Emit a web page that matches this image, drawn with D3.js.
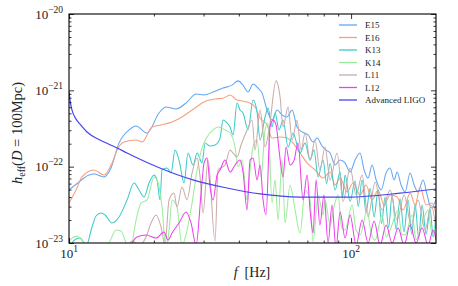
<!DOCTYPE html>
<html><head><meta charset="utf-8">
<script src="https://cdn.jsdelivr.net/npm/d3@7"></script>
<style>
body{margin:0;background:#fff;}
svg{display:block;font-family:"Liberation Serif","DejaVu Serif",serif;}
</style></head><body>
<svg id="chart" width="458" height="286"></svg>
<script>
// ---------------- data (frequency in Hz, characteristic strain h_eff) ----------------
const fE15 = [10,10.85,11.77,12.27,13.31,14.09,15.04,16.32,17.29,18.91,20.85,22.08,23.96,26.0,28.22,30.12,32.41,35.17,37.84,39.75,41.4,43.13,44.93,46.8,48.35,50.37,52.46,54.64,56.92,59.3,61.77,64.33,67.0,70.4,73.3,75.8,78.9,81.5,84.25,87.8,91.4,95.2,99.2,103.3,107.6,111.2,114.9,118.7,122.7,127.8,133.1,137.5,142.1,145.6,150.4,155.4,161.9,167.3,172.8,180,186,192.2,200];
const hE15 = [4.95e-23,6.3e-23,7.78e-23,8.0e-23,7.33e-23,9.6e-23,2.04e-22,3.03e-22,3.41e-22,2.76e-22,5.05e-22,6.05e-22,5.7e-22,6.83e-22,8.95e-22,8.7e-22,9.5e-22,1.07e-21,1.17e-21,1.33e-21,1.17e-21,9.5e-22,1.21e-21,1.07e-21,9.2e-22,5.52e-22,4.08e-22,5.52e-22,4.75e-22,4.48e-22,5.52e-22,3.31e-22,2.85e-22,2.6e-22,2.1e-22,2.37e-22,1.86e-22,1.65e-22,1.51e-22,1.05e-22,1.22e-22,1.12e-22,8.5e-23,1.22e-22,1.51e-22,9.05e-23,7.1e-23,1.05e-22,6.7e-23,4.95e-23,8.27e-23,9.6e-23,6.7e-23,8.5e-23,5.75e-23,4.66e-23,8.27e-23,5.75e-23,4.66e-23,6.7e-23,4.26e-23,2.87e-23,3.66e-23];

const fE16 = [10,10.59,11.12,12.27,13.31,14.21,14.8,15.67,17.29,18.15,19.7,21.2,23.19,25.16,27.31,30.12,32.94,35.17,37.23,39.42,42.78,45.66,47.57,50.37,52.46,56.0,59.3,62.27,65.93,69.82,74.53,79.56,84.25,87.77,91.42,96.79,101.6,107.6,113,118.7,124.7,130.9,137.5,145.6,152.9,161.9,168.7,175.7,184.5,193.7,200];
const hE16 = [3.34e-23,4.95e-23,7.33e-23,9.05e-23,7.78e-23,1.12e-22,1.65e-22,2.1e-22,2.23e-22,2.1e-22,3.31e-22,3.52e-22,3.85e-22,4.48e-22,5.52e-22,7.05e-22,7.7e-22,7.9e-22,8.7e-22,7.48e-22,7.05e-22,6.05e-22,4.34e-22,3.52e-22,2.37e-22,2.45e-22,2.37e-22,2.04e-22,1.51e-22,1.12e-22,9.05e-23,7.1e-23,8.5e-23,5.75e-23,7.1e-23,4.66e-23,6.11e-23,4.26e-23,5.75e-23,3.66e-23,4.95e-23,3.15e-23,4.26e-23,4.0e-23,2.71e-23,4.5e-23,3.15e-23,5.42e-23,3.15e-23,3.34e-23,2.33e-23];

const fK13 = [10,10.25,10.59,10.94,11.30,11.49,12.07,12.47,12.99,13.42,14.21,15.04,16.06,17.01,17.71,18.45,19.22,20.02,20.52,21.02,21.37,22.26,23.0,23.76,24.55,25.58,26.42,27.53,28.45,29.63,30.37,31.62,32.94,34.31,35.17,36.04,37.23,38.16,39.42,40.4,41.4,43.13,44.93,46.42,47.57,49.55,50.78,52.46,53.76,55.54,57.39,59.79,62.27,65.93,68.68,71.55,73.9,76.38,79.56,81.9,84.25,87.77,91.42,93.3,95.23,99.2,103.3,106,109.4,113,116.8,120.7,124.7,128.3,132,135.8,139.8,144.4,149.2,154,159.3,164,168.7,173.5,178.5,184.5,190.6,195.4,200];
const hK13 = [7.6e-24,1.0e-23,1.13e-23,1.16e-23,1.0e-23,9.1e-24,1.62e-23,2.26e-23,2.47e-23,2.33e-23,1.83e-23,2.19e-23,3.66e-23,6.11e-23,4.95e-23,4.01e-23,6.11e-23,7.78e-23,6.7e-23,3.66e-23,9.05e-23,9.6e-23,8.27e-23,1.65e-22,1.22e-22,6.11e-23,1.51e-22,1.05e-22,1.51e-22,1.12e-22,2.04e-22,1.86e-22,1.92e-22,2.37e-22,4.08e-22,3.85e-22,3.31e-22,2.6e-22,6.83e-22,5.52e-22,5.05e-22,3.03e-22,7.48e-22,5.2e-22,2.23e-22,4.48e-22,5.86e-22,3.31e-22,5.05e-22,3.03e-22,4.08e-22,1.81e-22,2.76e-22,1.51e-22,2.04e-22,1.22e-22,1.65e-22,7.33e-23,1.22e-22,6.0e-23,1.1e-22,4.95e-23,8.5e-23,4.0e-23,7.8e-23,3.5e-23,6.5e-23,3.0e-23,6.7e-23,2.5e-23,5.2e-23,2.2e-23,4.95e-23,1.8e-23,4.0e-23,1.6e-23,4.26e-23,1.5e-23,3.8e-23,1.4e-23,3.66e-23,1.3e-23,3.2e-23,1.2e-23,3.15e-23,1.3e-23,2.8e-23,1.2e-23,2.33e-23];

const fK14 = [10,10.25,10.68,10.94,11.30,11.68,12.88,13.87,14.68,15.29,15.93,16.45,17.29,18.0,18.91,20.02,20.52,21.37,22.08,22.63,23.19,24.15,25.16,26.21,27.31,28.45,29.63,30.87,32.41,33.77,35.75,37.23,38.79,39.75,41.07,42.78,43.84,44.93,46.42,47.96,49.55,50.78,52.46,53.76,55.09,56.92,58.34,60.77,63.3,65.93,68.68,71.55,73.32,76.38,79.56,80.87,84.25,87.0,89.95,92.5,95.23,100.8,104.0,107.6,114,117.5,121.7,128.8,133.0,137.5,146.8,151.0,155.4,164.6,170.0,175.7,187.5,193.5,200];
const hK14 = [1.03e-23,1.16e-23,1.23e-23,1.16e-23,1.0e-23,7.9e-24,7.6e-24,1.0e-23,1.48e-23,1.44e-23,1.0e-23,8e-24,2.0e-23,3.34e-23,3.66e-23,7.33e-23,6.7e-23,2.96e-23,8e-24,1.48e-23,3.66e-23,2.96e-23,9.4e-24,1.48e-23,3.34e-23,9.05e-23,1.76e-22,2.45e-22,3.03e-22,3.31e-22,3.03e-22,2.76e-22,1.81e-22,1.0e-22,1.22e-22,3.66e-23,9.05e-23,1.81e-22,2.23e-22,7.33e-23,3.03e-22,3.74e-22,3.34e-23,6.7e-23,2.0e-23,1.22e-22,1.83e-23,5.75e-23,2.71e-23,1.35e-23,4.95e-23,3.66e-23,1.03e-23,4.26e-23,2.33e-23,3.66e-23,1.72e-23,3.0e-23,4.26e-23,1.6e-23,1.48e-23,3.15e-23,1.5e-23,1.27e-23,2.71e-23,1.4e-23,1.09e-23,2.33e-23,1.2e-23,1.48e-23,2.71e-23,1.3e-23,1.27e-23,2.33e-23,1.1e-23,1.48e-23,2.71e-23,1.3e-23,1.72e-23];

const fL11 = [10,15.8,16.73,17.85,18.75,19.54,20.35,21.2,21.9,22.63,23.57,24.15,25.16,26.21,27.31,28.45,29.15,29.87,31.12,32.94,33.77,35.75,37.23,38.16,39.42,40.73,42.78,44.56,45.66,47.57,49.55,51.19,54.2,56.0,57.39,59.79,61.77,64.33,66.46,68.68,71.55,74.53,77.5,80.87,84.25,89.2,93.7,99.2,104.2,109.4,114.9,121.7,128.8,137.5,145.6,154.2,163.3,172.8,183,192.2,200];
const hL11 = [6.0e-24,8.1e-24,1.06e-23,9.4e-24,1.2e-23,1.83e-23,2.33e-23,1.62e-23,9.4e-24,3.66e-23,4.52e-23,2.96e-23,5.42e-23,3.66e-23,8.27e-23,1.3e-22,7.33e-23,2.47e-23,1.22e-22,1.06e-23,9.05e-23,1.05e-22,1.65e-22,1.51e-22,1.34e-22,1.92e-22,3.03e-22,4.08e-22,1.65e-22,5.52e-22,1.81e-22,3.03e-22,1.33e-21,8.2e-22,3.31e-22,6.05e-22,2.23e-22,4.08e-22,1.65e-22,2.76e-22,1.22e-22,2.23e-22,9.05e-23,1.81e-22,6.7e-23,1.51e-22,3.5e-23,9.6e-23,4.26e-23,7.78e-23,2.2e-23,6.3e-23,2.71e-23,4.95e-23,2.0e-23,4.26e-23,1.72e-23,3.66e-23,1.48e-23,3.15e-23,1.57e-23];

const fL12 = [10,16.19,16.73,17.42,18.75,20.35,21.72,22.44,23.19,24.55,26.0,27.08,28.22,29.39,30.12,30.87,31.62,32.41,33.49,34.31,35.75,37.23,38.79,40.4,41.4,42.78,43.84,44.93,46.42,47.57,48.75,49.96,51.61,52.89,54.2,55.54,57.39,58.81,60.77,62.8,64.86,67.57,69.82,71.55,73.32,75.14,77.5,80.2,82.88,85.6,88.4,91.42,95.23,99.2,104.2,109.4,114.9,120.7,126.7,133.1,139.8,146.8,154.2,161.9,170,178.5,187.5,195.4,200];
const hL12 = [5.15e-24,8.1e-24,1.0e-23,1.2e-23,1.27e-23,1.16e-23,1.39e-23,1.09e-23,1.35e-23,1.83e-23,2.55e-23,1.83e-23,9.4e-24,4.52e-23,1.12e-22,1.3e-22,5.42e-23,3.66e-23,7.78e-23,9.05e-23,1.22e-22,8.5e-23,1.05e-22,1.22e-22,8.5e-23,2.71e-23,1.22e-22,1.3e-22,6.7e-23,1.05e-22,3.66e-23,2.33e-23,3.31e-22,4.08e-22,3.52e-22,1.65e-22,7.33e-23,1.81e-22,1.05e-22,1.22e-22,2.04e-22,3.66e-23,7.78e-23,2.71e-23,1.35e-23,6.7e-23,1.72e-23,4.26e-23,1.0e-23,3.15e-23,8.6e-24,2.55e-23,1.16e-23,2.33e-23,9.4e-24,2.0e-23,1.0e-23,1.94e-23,9.4e-24,1.72e-23,1.0e-23,1.57e-23,9.4e-24,1.72e-23,1.0e-23,1.57e-23,9.4e-24,1.48e-23,1.09e-23];

const fLIGO = [10,10.08,10.25,10.59,10.94,11.58,12.88,14.8,16.06,21.0,27.5,36.3,47.6,65.9,99.2,149,200];
const hLIGO = [9.6e-22,7.5e-22,5.5e-22,4.2e-22,3.6e-22,2.85e-22,2.23e-22,1.76e-22,1.51e-22,9.6e-23,6.7e-23,5.26e-23,4.39e-23,4.0e-23,4.0e-23,4.5e-23,5.1e-23];

const seriesNames = ["E15","E16","K13","K14","L11","L12","Advanced LIGO"];
const seriesColors = ["#62a8f4","#f5a07e","#3ccaca","#9cec9c","#cbabab","#ee40ee","#4646f0"];
const seriesF = [fE15,fE16,fK13,fK14,fL11,fL12,fLIGO];
const seriesH = [hE15,hE16,hK13,hK14,hL11,hL12,hLIGO];

const xMajor = [10,100];
const xMinor = [20,30,40,50,60,70,80,90];
const yMajor = [1e-23,1e-22,1e-21,1e-20];
const yMajorExp = ["\u221223","\u221222","\u221221","\u221220"];
const xMajorExp = ["1","2"];
const yMinor = [];
[1e-23,1e-22,1e-21].forEach(d=>{for(let k=2;k<=9;k++) yMinor.push(k*d);});

// ---------------- layout ----------------
const L = 69, R = 436, T = 14, B = 243;
const svg = d3.select("#chart");
const x = d3.scaleLog().domain([10,200]).range([L,R]);
const y = d3.scaleLog().domain([1e-23,1e-20]).range([B,T]);

svg.append("defs").append("clipPath").attr("id","clip")
  .append("rect").attr("x",L).attr("y",T).attr("width",R-L).attr("height",B-T);

const line = d3.line().x(d=>x(d[0])).y(d=>y(d[1])).curve(d3.curveMonotoneX);
const plot = svg.append("g").attr("clip-path","url(#clip)");
seriesNames.forEach((n,i)=>{
  const pts = seriesF[i].map((f,j)=>[f,seriesH[i][j]]);
  plot.append("path").datum(pts)
    .attr("d",line).attr("fill","none")
    .attr("stroke",seriesColors[i])
    .attr("stroke-width", i===6 ? 1.2 : 1.05)
    .attr("stroke-linejoin","round");
});

// ---------------- axes (inward ticks on all sides) ----------------
function tickAxis(gen, tr, vals, size){
  const g = svg.append("g").attr("transform",tr)
    .call(gen.tickValues(vals).tickSize(size).tickSizeOuter(0).tickFormat(""));
  g.select(".domain").remove();
  g.selectAll(".tick line").attr("stroke","#000").attr("stroke-width",0.8);
  return g;
}
tickAxis(d3.axisBottom(x), `translate(0,${B})`, xMajor, -5);
tickAxis(d3.axisBottom(x), `translate(0,${B})`, xMinor, -2.5);
tickAxis(d3.axisTop(x), `translate(0,${T})`, xMajor, -5);
tickAxis(d3.axisTop(x), `translate(0,${T})`, xMinor, -2.5);
tickAxis(d3.axisLeft(y), `translate(${L},0)`, yMajor, -5);
tickAxis(d3.axisLeft(y), `translate(${L},0)`, yMinor, -2.5);
tickAxis(d3.axisRight(y), `translate(${R},0)`, yMajor, -5);
tickAxis(d3.axisRight(y), `translate(${R},0)`, yMinor, -2.5);

svg.append("rect").attr("x",L).attr("y",T).attr("width",R-L).attr("height",B-T)
  .attr("fill","none").attr("stroke","#000").attr("stroke-width",1.1);

// tick labels
yMajor.forEach((v,i)=>{
  const t = svg.append("text").attr("x",L-6).attr("y",y(v)+4.5)
    .attr("text-anchor","end").attr("font-size",13).attr("fill","#222");
  t.append("tspan").text("10");
  t.append("tspan").attr("dy",-6).attr("font-size",9.5).text(yMajorExp[i]);
});
xMajor.forEach((v,i)=>{
  const t = svg.append("text").attr("x",x(v)).attr("y",B+15)
    .attr("text-anchor","middle").attr("font-size",13).attr("fill","#222");
  t.append("tspan").text("10");
  t.append("tspan").attr("dy",-6).attr("font-size",9.5).text(xMajorExp[i]);
});

// axis labels
const xl = svg.append("text").attr("x",252).attr("y",277).attr("text-anchor","middle")
  .attr("font-size",14).attr("fill","#222");
xl.append("tspan").attr("font-style","italic").text("f");
xl.append("tspan").attr("dx",7).text("[Hz]");

const yl = svg.append("text").attr("transform","translate(22,133) rotate(-90)")
  .attr("text-anchor","middle").attr("font-size",14.5).attr("fill","#222");
yl.append("tspan").attr("font-style","italic").text("h");
yl.append("tspan").attr("font-size",10).attr("dy",3).text("eff");
yl.append("tspan").attr("dy",-3).text("(");
yl.append("tspan").attr("font-style","italic").text("D");
yl.append("tspan").text(" = 100Mpc)");

// legend
const lg = svg.append("g");
seriesNames.forEach((n,i)=>{
  const yy = 25 + i*12.5;
  lg.append("line").attr("x1",339).attr("x2",357).attr("y1",yy).attr("y2",yy)
    .attr("stroke",seriesColors[i]).attr("stroke-width",1.3);
  lg.append("text").attr("x",365).attr("y",yy).attr("dy","0.35em")
    .attr("font-size",9).attr("fill","#222").text(n);
});
</script>
</body></html>
